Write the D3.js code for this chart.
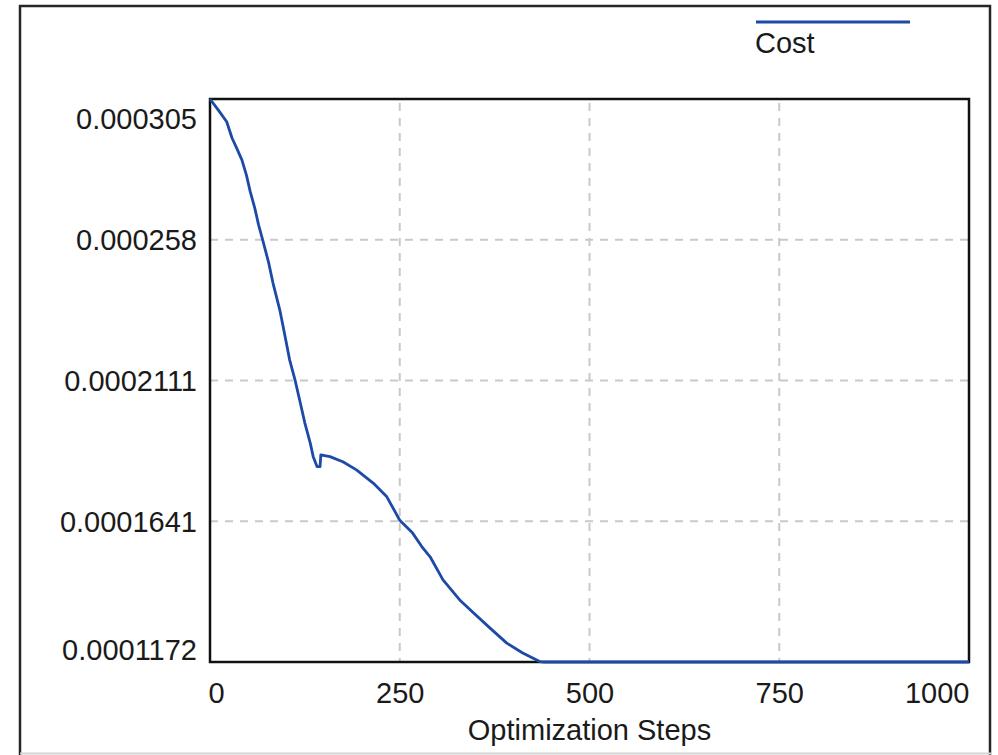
<!DOCTYPE html>
<html>
<head>
<meta charset="utf-8">
<script src="https://cdn.jsdelivr.net/npm/d3@7"></script>
<style>
  html, body { margin: 0; padding: 0; background: #ffffff; }
  svg { display: block; }
  text { font-family: "Liberation Sans", Arial, sans-serif; }
</style>
</head>
<body>
<svg id="chart" width="998" height="755"></svg>
<script>
// ---- data ----
const steps = [0, 11, 22, 29, 35, 42, 48, 53, 59, 64, 70, 77, 83, 92, 99, 105, 112, 119, 125, 132, 136, 141, 145, 146, 158, 175, 193, 215, 233, 250, 267, 279, 290, 307, 329, 347, 369, 391, 412, 435, 440, 1000];
const cost = [0.0003050, 0.0003013, 0.0002974, 0.0002920, 0.0002887, 0.0002847, 0.0002796, 0.0002741, 0.0002686, 0.0002630, 0.0002574, 0.0002507, 0.0002436, 0.0002346, 0.0002257, 0.0002179, 0.0002113, 0.0002036, 0.0001969, 0.0001903, 0.0001857, 0.0001824, 0.0001824, 0.0001863, 0.0001857, 0.0001840, 0.0001813, 0.0001769, 0.0001723, 0.0001645, 0.0001602, 0.0001557, 0.0001523, 0.0001446, 0.0001379, 0.0001336, 0.0001285, 0.0001235, 0.0001202, 0.0001173, 0.0001172, 0.0001172];
const xTickValues = [0, 250, 500, 750, 1000];
const xTickLabels = ["0", "250", "500", "750", "1000"];
const yTickValues = [0.0001172, 0.00016415, 0.0002111, 0.00025805, 0.000305];
const yTickLabels = ["0.0001172", "0.0001641", "0.0002111", "0.000258", "0.000305"];
const seriesName = "Cost";
const xTitle = "Optimization Steps";

// ---- layout ----
const plot = { left: 210, top: 99, right: 969, bottom: 662 };
const lineColor = "#1c4aa6";
const textColor = "#1a1a1a";
const fontSize = 29;

const svg = d3.select("#chart");

const x = d3.scaleLinear().domain([0, 1000]).range([plot.left, plot.right]);
const y = d3.scaleLinear().domain([yTickValues[0], yTickValues[yTickValues.length - 1]]).range([plot.bottom, plot.top]);

// outer frame
svg.append("rect")
  .attr("x", 20).attr("y", 6).attr("width", 970).attr("height", 800)
  .attr("fill", "none").attr("stroke", "#262626").attr("stroke-width", 2.5);
svg.append("line")
  .attr("x1", 20).attr("x2", 992).attr("y1", 753.5).attr("y2", 753.5)
  .attr("stroke", "#d4d4d4").attr("stroke-width", 2);

// grid
const grid = svg.append("g");
grid.selectAll("line.vx")
  .data(xTickValues.slice(1, -1))
  .join("line")
  .attr("x1", d => x(d)).attr("x2", d => x(d))
  .attr("y1", plot.top + 4).attr("y2", plot.bottom)
  .attr("stroke", "#c9c9c9").attr("stroke-width", 2).attr("stroke-dasharray", "8,7");
grid.selectAll("line.hy")
  .data(yTickValues.slice(1, -1))
  .join("line")
  .attr("x1", plot.left).attr("x2", plot.right)
  .attr("y1", d => y(d)).attr("y2", d => y(d))
  .attr("stroke", "#c9c9c9").attr("stroke-width", 2).attr("stroke-dasharray", "8,7");

// plot frame
svg.append("rect")
  .attr("x", plot.left).attr("y", plot.top)
  .attr("width", plot.right - plot.left).attr("height", plot.bottom - plot.top)
  .attr("fill", "none").attr("stroke", "#111").attr("stroke-width", 2.5);

// axes
const xAxis = svg.append("g")
  .attr("transform", `translate(0,${plot.bottom})`)
  .style("color", textColor)
  .call(d3.axisBottom(x).tickValues(xTickValues).tickFormat((d, i) => xTickLabels[i]).tickSize(0));
xAxis.select(".domain").remove();
xAxis.selectAll("text")
  .attr("y", 41).attr("dy", 0)
  .attr("font-size", fontSize)
  .attr("font-family", "Liberation Sans, Arial, sans-serif")
  .attr("text-anchor", (d, i) => i === 0 ? "start" : (i === xTickValues.length - 1 ? "end" : "middle"))
  .attr("x", (d, i) => i === 0 ? -2 : 0);

const yAxis = svg.append("g")
  .attr("transform", `translate(${plot.left},0)`)
  .style("color", textColor)
  .call(d3.axisLeft(y).tickValues(yTickValues).tickFormat((d, i) => yTickLabels[i]).tickSize(0).tickPadding(13));
yAxis.select(".domain").remove();
yAxis.selectAll("text")
  .attr("dy", 0)
  .attr("font-size", fontSize)
  .attr("font-family", "Liberation Sans, Arial, sans-serif")
  .attr("y", (d, i) => i === 0 ? -3 : (i === yTickValues.length - 1 ? 29 : 10));

// axis title
svg.append("text")
  .attr("x", (plot.left + plot.right) / 2).attr("y", 740)
  .attr("text-anchor", "middle")
  .attr("font-size", fontSize)
  .attr("fill", textColor)
  .text(xTitle);

// series line
const data = steps.map((s, i) => ({ s, v: cost[i] }));
svg.append("path")
  .datum(data)
  .attr("fill", "none")
  .attr("stroke", lineColor)
  .attr("stroke-width", 2.8)
  .attr("stroke-linejoin", "round")
  .attr("d", d3.line().x(d => x(d.s)).y(d => y(d.v)));

// legend
svg.append("line")
  .attr("x1", 756).attr("x2", 910).attr("y1", 22).attr("y2", 22)
  .attr("stroke", lineColor).attr("stroke-width", 3);
svg.append("text")
  .attr("x", 755).attr("y", 53)
  .attr("font-size", fontSize)
  .attr("fill", textColor)
  .text(seriesName);
</script>
</body>
</html>
